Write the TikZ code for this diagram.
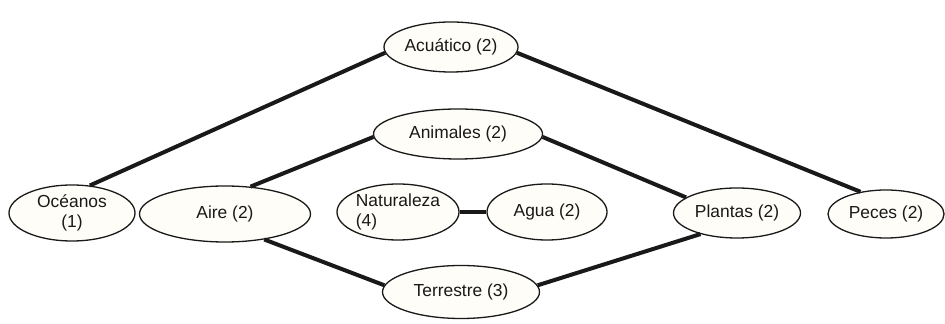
\documentclass[tikz,border=0pt]{standalone}
\usepackage{fontspec}
\setmainfont{Liberation Sans}
\usetikzlibrary{shapes.geometric}
\newlength{\du}
\setlength{\du}{0.5pt}
\definecolor{dialinecolor}{rgb}{0.100000, 0.100000, 0.100000}
\definecolor{dialinefill}{rgb}{0.995000, 0.993000, 0.970000}
\tikzset{
  concepto/.style={ellipse, draw=dialinecolor, fill=dialinefill, line width=1.3\du,
    inner sep=0pt, align=center, text=dialinecolor,
    font=\fontsize{8.7}{10.2}\selectfont},
  enlace/.style={draw=dialinecolor, line width=4\du}
}

\begin{document}
\begin{tikzpicture}
\pgftransformxscale{1.000000}
\pgftransformyscale{-1.000000}
\useasboundingbox[fill=white] (0\du,0\du) rectangle (945\du,324\du);
% setfont left to latex
\node[concepto, minimum width=134\du, minimum height=50\du] (acuatico) at (451\du,47\du){Acuático (2)};
\node[concepto, minimum width=169\du, minimum height=50\du] (animales) at (458\du,134\du){Animales (2)};
\node[concepto, minimum width=126\du, minimum height=56\du] (oceanos) at (72\du,213\du){Océanos\\(1)};
\node[concepto, minimum width=171\du, minimum height=56\du] (aire) at (225\du,214\du){Aire (2)};
\node[concepto, minimum width=122\du, minimum height=56\du, align=left] (naturaleza) at (398\du,212\du){Naturaleza\\(4)};
\node[concepto, minimum width=120\du, minimum height=56\du] (agua) at (547\du,212\du){Agua (2)};
\node[concepto, minimum width=127\du, minimum height=50\du] (plantas) at (737\du,213\du){Plantas (2)};
\node[concepto, minimum width=116\du, minimum height=48\du] (peces) at (886\du,214\du){Peces (2)};
\node[concepto, minimum width=157\du, minimum height=53\du] (terrestre) at (461\du,292\du){Terrestre (3)};
% setfont left to latex
\draw[enlace] (oceanos.57)--(acuatico.185);
\draw[enlace] (acuatico.355)--(peces.139);
\draw[enlace] (aire.47)--(animales.182);
\draw[enlace] (animales.358)--(plantas.163);
\draw[enlace] (aire.327)--(terrestre.175);
\draw[enlace] (terrestre.5)--(plantas.210);
\draw[enlace] (naturaleza.east)--(agua.west);
\end{tikzpicture}
\end{document}
